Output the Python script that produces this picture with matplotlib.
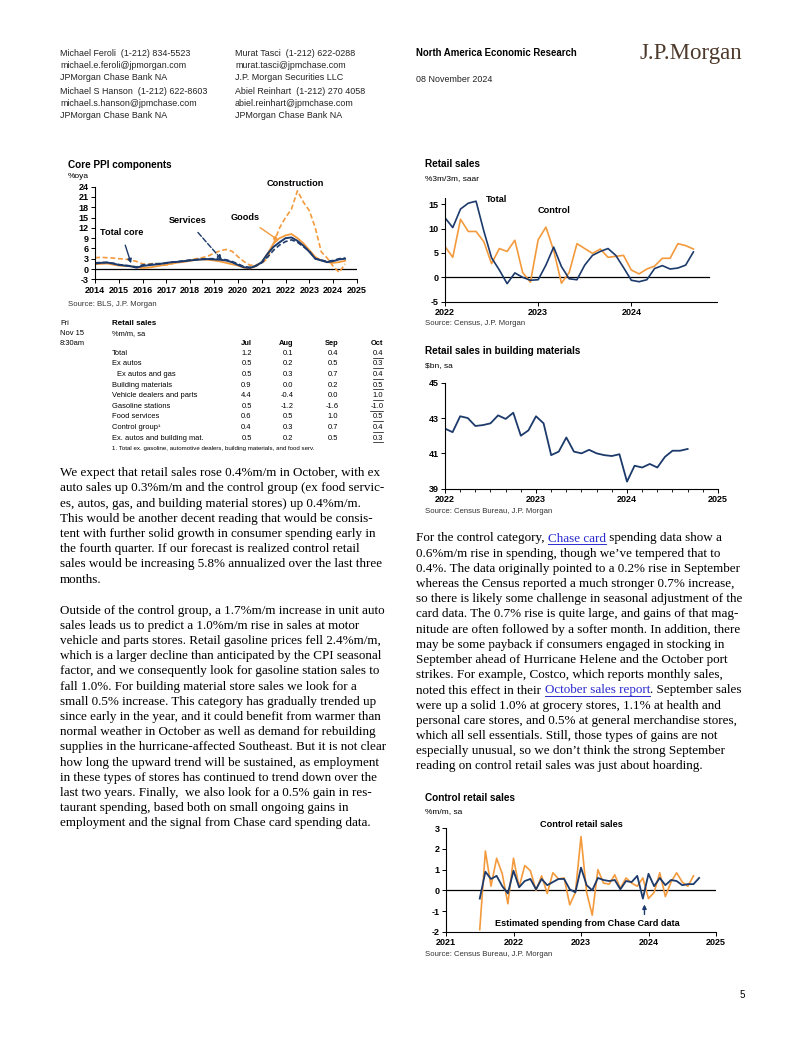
import matplotlib
matplotlib.use("Agg")
import matplotlib.pyplot as plt
from matplotlib.font_manager import FontProperties
from matplotlib.lines import Line2D
import numpy as np

plt.rcParams["font.family"] = ["Liberation Sans", "DejaVu Sans"]

W, H = 802, 1037
NAVY = "#1c3a6b"
ORANGE = "#f39a3d"
LINK = "#2a2ad0"

# ---- Core PPI components, %oya (quarterly readings, 2014Q1 - 2024Q3)
ppi_dates = np.arange(2014, 2024.51, 0.25)
ppi_construction = [3.3, 3.4, 3.3, 3.2, 3.0, 2.9, 2.6, 2.2, 1.5, 1.4, 1.7, 1.4,
                    1.2, 1.6, 2.0, 2.3, 2.6, 3.0, 3.3, 3.8, 4.6, 5.3, 5.7, 5.2,
                    3.6, 2.2, 1.1, 1.2, 1.6, 3.2, 7.5, 12.0, 15.0, 17.5, 22.8, 19.5,
                    17.0, 12.0, 5.0, 3.2, 0.8, -1.0, 1.5]
ppi_goods = [1.4, 1.5, 1.6, 1.3, 1.0, 0.9, 0.8, 0.5, 0.3, 0.4, 0.7, 1.0,
             1.3, 1.6, 1.9, 2.1, 2.4, 2.7, 2.8, 2.7, 2.5, 2.2, 1.8, 1.4,
             1.0, 0.4, 0.2, 0.8, 2.0, 4.5, 7.5, 9.0, 9.8, 10.2, 9.0, 7.5,
             5.5, 3.5, 2.5, 2.0, 1.8, 2.0, 2.4]
ppi_total = [1.6, 1.8, 1.9, 1.6, 1.2, 1.0, 0.8, 0.4, 0.9, 1.1, 1.3, 1.5,
             1.8, 2.0, 2.1, 2.3, 2.5, 2.7, 2.8, 2.9, 2.8, 2.7, 2.5, 2.0,
             1.2, 0.5, 0.3, 0.9, 2.0, 4.5, 6.5, 7.8, 9.0, 9.2, 8.2, 6.8,
             5.0, 3.0, 2.5, 2.0, 2.3, 2.8, 3.0]
ppi_services = [1.8, 1.9, 1.9, 1.7, 1.3, 1.1, 0.9, 0.6, 1.2, 1.3, 1.5, 1.6,
                1.7, 2.0, 2.2, 2.4, 2.6, 2.7, 2.9, 3.0, 3.0, 2.9, 2.7, 2.2,
                1.5, 0.7, 0.5, 0.9, 1.8, 3.5, 5.5, 7.0, 8.0, 8.5, 7.8, 6.5,
                5.2, 3.0, 2.6, 2.2, 2.5, 3.0, 3.2]
ppi_years = list(range(2014, 2026))

# ---- Retail sales, %3m/3m saar, Jan 2022 - Sep 2024
rs_dates = 2022 + np.arange(33) / 12
rs_total = [12.2, 10.2, 14.0, 15.2, 15.6, 9.5, 4.0, 1.5, -1.3, 0.9, 0.0, -0.6,
            -0.5, 2.5, 6.2, 2.2, -0.3, -0.5, 2.5, 4.5, 5.3, 5.9, 4.5, 2.0,
            -0.6, -0.9, -0.5, 1.8, 2.4, 1.7, 1.9, 2.5, 5.2]
rs_control = [6.3, 4.1, 11.9, 9.4, 9.4, 7.3, 2.8, 5.9, 5.3, 7.6, 1.0, -1.0,
              7.7, 10.3, 5.5, -1.2, 1.0, 6.9, 5.9, 4.9, 5.8, 4.1, 4.3, 4.5,
              1.5, 0.7, 1.7, 2.3, 3.9, 3.9, 6.9, 6.5, 5.8]

# ---- Building materials sales, $bn sa, Jan 2022 - Sep 2024
bm_dates = 2022 + np.arange(33) / 12
bm_sales = [42.4, 42.2, 43.1, 43.0, 42.55, 42.6, 42.7, 43.15, 42.95, 43.3, 42.0, 42.3,
            43.1, 42.7, 40.9, 41.1, 41.9, 41.1, 41.0, 41.2, 41.0, 40.9, 40.85, 40.95,
            39.4, 40.3, 40.2, 40.4, 40.2, 40.8, 41.15, 41.15, 41.25]

# ---- Control retail sales, %m/m sa (Census to Sep 2024, Chase estimate to Oct 2024)
census_dates = 2021 + (6 + np.arange(39)) / 12
census_ctrl = [-1.9, 1.9, 0.2, 1.55, 0.8, -0.65,
               1.55, 0.15, 1.2, 0.95, 0.0, 0.7, -0.15, 0.85, 0.55, 0.6, -0.7, -0.1,
               2.6, -0.1, -1.2, 1.0, 0.35, 0.3, 0.75, 0.1, 0.6, 0.35, 0.2, 0.6,
               -0.4, -0.1, 0.85, -0.3, 0.4, 0.85, 0.4, 0.2, 0.7]
chase_dates = 2021 + (6 + np.arange(40)) / 12
chase_ctrl = [-0.4, 0.9, 0.55, 0.7, 0.2, -0.15,
              0.95, 0.15, 0.45, 0.55, 0.05, 0.55, 0.25, 0.4, 0.55, 0.55, 0.05, -0.1,
              1.1, 0.25, 0.0, 0.6, 0.5, 0.45, 0.5, 0.05, 0.45, 0.4, 0.7, -0.4,
              0.8, 0.2, 0.6, 0.25, 0.5, 0.45, 0.25, 0.3, 0.3, 0.6]

# ---- Retail sales preview table
tbl_months = ["Jul", "Aug", "Sep", "Oct"]
tbl_rows = ["Total", "Ex autos", "Ex autos and gas", "Building materials",
            "Vehicle dealers and parts", "Gasoline stations", "Food services",
            "Control group\u00b9", "Ex. autos and building mat."]
tbl_indent = [0, 0, 1, 0, 0, 0, 0, 0, 0]
tbl_jul = [1.2, 0.5, 0.5, 0.9, 4.4, 0.5, 0.6, 0.4, 0.5]
tbl_aug = [0.1, 0.2, 0.3, 0.0, -0.4, -1.2, 0.5, 0.3, 0.2]
tbl_sep = [0.4, 0.5, 0.7, 0.2, 0.0, -1.6, 1.0, 0.7, 0.5]
tbl_oct = [0.4, 0.3, 0.4, 0.5, 1.0, -1.0, 0.5, 0.4, 0.3]

fig = plt.figure(figsize=(8.02, 10.37), dpi=100)
fig.patch.set_facecolor("white")
rend = fig.canvas.get_renderer()


def fx(x):
    return x / W


def fy(y):
    return 1 - y / H


def put(x, y, s, **kw):
    kw.setdefault("va", "center")
    return fig.text(fx(x), fy(y), s, **kw)


def rect(l, t, r, b):
    return [l / W, 1 - b / H, (r - l) / W, (b - t) / H]


def tw(s, fp):
    w1 = rend.get_text_width_height_descent(s + "|", fp, False)[0]
    w0 = rend.get_text_width_height_descent("|", fp, False)[0]
    return w1 - w0


def hline(x0, x1, y, color="black", lw=0.6):
    fig.add_artist(Line2D([fx(x0), fx(x1)], [fy(y), fy(y)], color=color, lw=lw,
                          transform=fig.transFigure))


def style_axes(ax, xlim, ylim, xticks, xlabels, yticks, size=6.3):
    ax.set_xlim(*xlim)
    ax.set_ylim(*ylim)
    for side in ["top", "right"]:
        ax.spines[side].set_visible(False)
    for side in ["left", "bottom"]:
        ax.spines[side].set_linewidth(0.8)
    ax.set_xticks(xticks)
    ax.set_xticklabels(xlabels, fontweight="bold", fontsize=size)
    ax.set_yticks(yticks)
    ax.set_yticklabels([str(v) for v in yticks], fontweight="bold", fontsize=size)
    ax.tick_params(length=3, width=0.7, pad=1.5)
    ax.patch.set_alpha(0)


# ---------------- header
sans = dict(fontsize=6.4, color="#222222")
hdr_y = [53, 65.5, 78, 91.5, 103.5, 116]
col1 = ["Michael Feroli  (1-212) 834-5523", "michael.e.feroli@jpmorgan.com",
        "JPMorgan Chase Bank NA", "Michael S Hanson  (1-212) 622-8603",
        "michael.s.hanson@jpmchase.com", "JPMorgan Chase Bank NA"]
col2 = ["Murat Tasci  (1-212) 622-0288", "murat.tasci@jpmchase.com",
        "J.P. Morgan Securities LLC", "Abiel Reinhart  (1-212) 270 4058",
        "abiel.reinhart@jpmchase.com", "JPMorgan Chase Bank NA"]
for yy, a, b in zip(hdr_y, col1, col2):
    put(60, yy, a, **sans)
    put(235, yy, b, **sans)
put(416, 53, "North America Economic Research", fontsize=6.9, fontweight="bold")
put(416, 79, "08 November 2024", **sans)
put(640, 53, "J.P.Morgan", fontsize=16.5, family="Liberation Serif", color="#4e3a2c")
put(740, 995, "5", fontsize=7)

# ---------------- chart 1: core PPI
put(68, 165, "Core PPI components", fontsize=7.2, fontweight="bold")
put(68, 176, "%oya", fontsize=6)
ax1 = fig.add_axes(rect(95, 186.7, 357, 279.3))
style_axes(ax1, (2014, 2025), (-3, 24), ppi_years, [str(y) for y in ppi_years],
           list(range(-3, 25, 3)), size=6.5)
ax1.axhline(0, color="black", lw=0.9)
ax1.plot(ppi_dates, ppi_construction, color=ORANGE, lw=1.2, ls=(0, (3, 1.6)))
ax1.plot(ppi_dates, ppi_goods, color=ORANGE, lw=1.3)
ax1.plot(ppi_dates, ppi_services, color=NAVY, lw=1.2, ls=(0, (3, 1.6)))
ax1.plot(ppi_dates, ppi_total, color=NAVY, lw=1.4)
lab = dict(fontsize=6.6, fontweight="bold", ha="center", va="center", annotation_clip=False)
ax1.annotate("Construction", xy=(2022.4, 24.8), **lab)
ax1.annotate("Goods", xy=(2021.8, 7.9), xytext=(2020.3, 15.1),
             arrowprops=dict(arrowstyle="-|>", color=ORANGE, lw=1.0, mutation_scale=6,
                             shrinkA=4), **lab)
ax1.annotate("Services", xy=(2019.4, 2.1), xytext=(2017.9, 14.0),
             arrowprops=dict(arrowstyle="-|>", color=NAVY, lw=1.0, ls="--",
                             mutation_scale=6, shrinkA=4), **lab)
ax1.annotate("Total core", xy=(2015.55, 0.9), xytext=(2015.1, 10.6),
             arrowprops=dict(arrowstyle="-|>", color=NAVY, lw=1.0, mutation_scale=6,
                             shrinkA=4), **lab)
put(68, 304, "Source: BLS, J.P. Morgan", fontsize=5.6, color="#333333")

# ---------------- table
tsz = 5.4
put(60, 323.3, "Fri", fontsize=tsz)
put(60, 333.3, "Nov 15", fontsize=tsz)
put(60, 343.3, "8:30am", fontsize=tsz)
put(111.7, 323.3, "Retail sales", fontsize=5.8, fontweight="bold")
put(111.7, 334, "%m/m, sa", fontsize=tsz)
col_x = [251.7, 293.3, 338.3, 383.3]
for cx, m in zip(col_x, tbl_months):
    put(cx, 343.3, m, fontsize=tsz, fontweight="bold", ha="right")
fp_t = FontProperties(family="Liberation Sans", size=tsz)
for i, name in enumerate(tbl_rows):
    ry = 353.3 + i * 10.6
    put(111.7 + 5.5 * tbl_indent[i], ry, name, fontsize=tsz)
    for cx, vals in zip(col_x, [tbl_jul, tbl_aug, tbl_sep, tbl_oct]):
        put(cx, ry, f"{vals[i]:.1f}", fontsize=tsz, ha="right")
    s = f"{tbl_oct[i]:.1f}"
    hline(col_x[3] - tw(s, fp_t), col_x[3], ry + 4.2, lw=0.5)
put(111.7, 448.3, "1. Total ex. gasoline, automotive dealers, building materials, and food serv.",
    fontsize=4.4)

# ---------------- body text
fp_b = FontProperties(family="Liberation Serif", size=9.45)
para1 = ["We expect that retail sales rose 0.4%m/m in October, with ex",
         "auto sales up 0.3%m/m and the control group (ex food servic-",
         "es, autos, gas, and building material stores) up 0.4%m/m.",
         "This would be another decent reading that would be consis-",
         "tent with further solid growth in consumer spending early in",
         "the fourth quarter. If our forecast is realized control retail",
         "sales would be increasing 5.8% annualized over the last three",
         "months."]
para2 = ["Outside of the control group, a 1.7%m/m increase in unit auto",
         "sales leads us to predict a 1.0%m/m rise in sales at motor",
         "vehicle and parts stores. Retail gasoline prices fell 2.4%m/m,",
         "which is a larger decline than anticipated by the CPI seasonal",
         "factor, and we consequently look for gasoline station sales to",
         "fall 1.0%. For building material store sales we look for a",
         "small 0.5% increase. This category has gradually trended up",
         "since early in the year, and it could benefit from warmer than",
         "normal weather in October as well as demand for rebuilding",
         "supplies in the hurricane-affected Southeast. But it is not clear",
         "how long the upward trend will be sustained, as employment",
         "in these types of stores has continued to trend down over the",
         "last two years. Finally,  we also look for a 0.5% gain in res-",
         "taurant spending, based both on small ongoing gains in",
         "employment and the signal from Chase card spending data."]
para3 = [[("For the control category, ", 0), ("Chase card", 1), (" spending data show a", 0)],
         [("0.6%m/m rise in spending, though we\u2019ve tempered that to", 0)],
         [("0.4%. The data originally pointed to a 0.2% rise in September", 0)],
         [("whereas the Census reported a much stronger 0.7% increase,", 0)],
         [("so there is likely some challenge in seasonal adjustment of the", 0)],
         [("card data. The 0.7% rise is quite large, and gains of that mag-", 0)],
         [("nitude are often followed by a softer month. In addition, there", 0)],
         [("may be some payback if consumers engaged in stocking in", 0)],
         [("September ahead of Hurricane Helene and the October port", 0)],
         [("strikes. For example, Costco, which reports monthly sales,", 0)],
         [("noted this effect in their ", 0), ("October sales report", 1),
          (". September sales", 0)],
         [("were up a solid 1.0% at grocery stores, 1.1% at health and", 0)],
         [("personal care stores, and 0.5% at general merchandise stores,", 0)],
         [("which all sell essentials. Still, those types of gains are not", 0)],
         [("especially unusual, so we don\u2019t think the strong September", 0)],
         [("reading on control retail sales was just about hoarding.", 0)]]
LS = 15.2
for i, line in enumerate(para1):
    put(60, 473.3 + i * LS, line, fontproperties=fp_b)
for i, line in enumerate(para2):
    put(60, 610.6 + i * LS, line, fontproperties=fp_b)
for i, parts in enumerate(para3):
    yy = 538.5 + i * LS
    cx = 416.5
    for s, is_link in parts:
        col = LINK if is_link else "black"
        put(cx, yy, s, fontproperties=fp_b, color=col)
        if is_link:
            hline(cx, cx + tw(s, fp_b), yy + 5.5, color=LINK, lw=0.7)
        cx += tw(s, fp_b)

# ---------------- chart 2: retail sales 3m/3m
put(425, 164, "Retail sales", fontsize=7.2, fontweight="bold")
put(425, 179, "%3m/3m, saar", fontsize=6)
ax2 = fig.add_axes(rect(445, 198.3, 717, 301.7))
style_axes(ax2, (2022, 2024.92), (-5, 16.2), [2022, 2023, 2024],
           ["2022", "2023", "2024"], [-5, 0, 5, 10, 15], size=6.5)
ax2.axhline(0, color="black", lw=0.9, xmax=0.97)
ax2.plot(rs_dates, rs_control, color=ORANGE, lw=1.2)
ax2.plot(rs_dates, rs_total, color=NAVY, lw=1.2)
ax2.text(2022.55, 16.0, "Total", fontsize=6.6, fontweight="bold", ha="center", va="center")
ax2.text(2023.17, 13.8, "Control", fontsize=6.6, fontweight="bold", ha="center", va="center")
put(425, 323.3, "Source: Census, J.P. Morgan", fontsize=5.6, color="#333333")

# ---------------- chart 3: building materials
put(425, 350.7, "Retail sales in building materials", fontsize=7.2, fontweight="bold")
put(425, 366, "$bn, sa", fontsize=6)
ax3 = fig.add_axes(rect(445, 382.7, 718, 488.7))
style_axes(ax3, (2022, 2025), (39, 45), [2022, 2023, 2024, 2025],
           ["2022", "2023", "2024", "2025"], [39, 41, 43, 45], size=6.5)
ax3.set_xticks(2022 + np.arange(0, 37, 2) / 12, minor=True)
ax3.tick_params(which="minor", length=2, width=0.6)
ax3.plot(bm_dates, bm_sales, color=NAVY, lw=1.3)
put(425, 511.7, "Source: Census Bureau, J.P. Morgan", fontsize=5.6, color="#333333")

# ---------------- chart 4: control retail sales m/m
put(425, 797.7, "Control retail sales", fontsize=7.2, fontweight="bold")
put(425, 812, "%m/m, sa", fontsize=6)
ax4 = fig.add_axes(rect(446, 828.3, 716, 931.7))
style_axes(ax4, (2021, 2025), (-2, 3), [2021, 2022, 2023, 2024, 2025],
           ["2021", "2022", "2023", "2024", "2025"], [-2, -1, 0, 1, 2, 3], size=6.5)
ax4.axhline(0, color="black", lw=0.9)
ax4.plot(census_dates, census_ctrl, color=ORANGE, lw=1.2)
ax4.plot(chase_dates, chase_ctrl, color=NAVY, lw=1.3)
ax4.text(2023.0, 3.2, "Control retail sales", fontsize=6.6, fontweight="bold",
         ha="center", va="center", clip_on=False)
ax4.annotate("Estimated spending from Chase Card data", xy=(2023.94, -0.55),
             xytext=(2023.09, -1.6), fontsize=6.6, fontweight="bold", ha="center",
             va="center")
ax4.annotate("", xy=(2023.94, -0.55), xytext=(2023.94, -1.3),
             arrowprops=dict(arrowstyle="-|>", color=NAVY, lw=1.0, mutation_scale=6))
put(425, 954, "Source: Census Bureau, J.P. Morgan", fontsize=5.6, color="#333333")

fig.savefig("out.png", dpi=100)
plt.close(fig)
